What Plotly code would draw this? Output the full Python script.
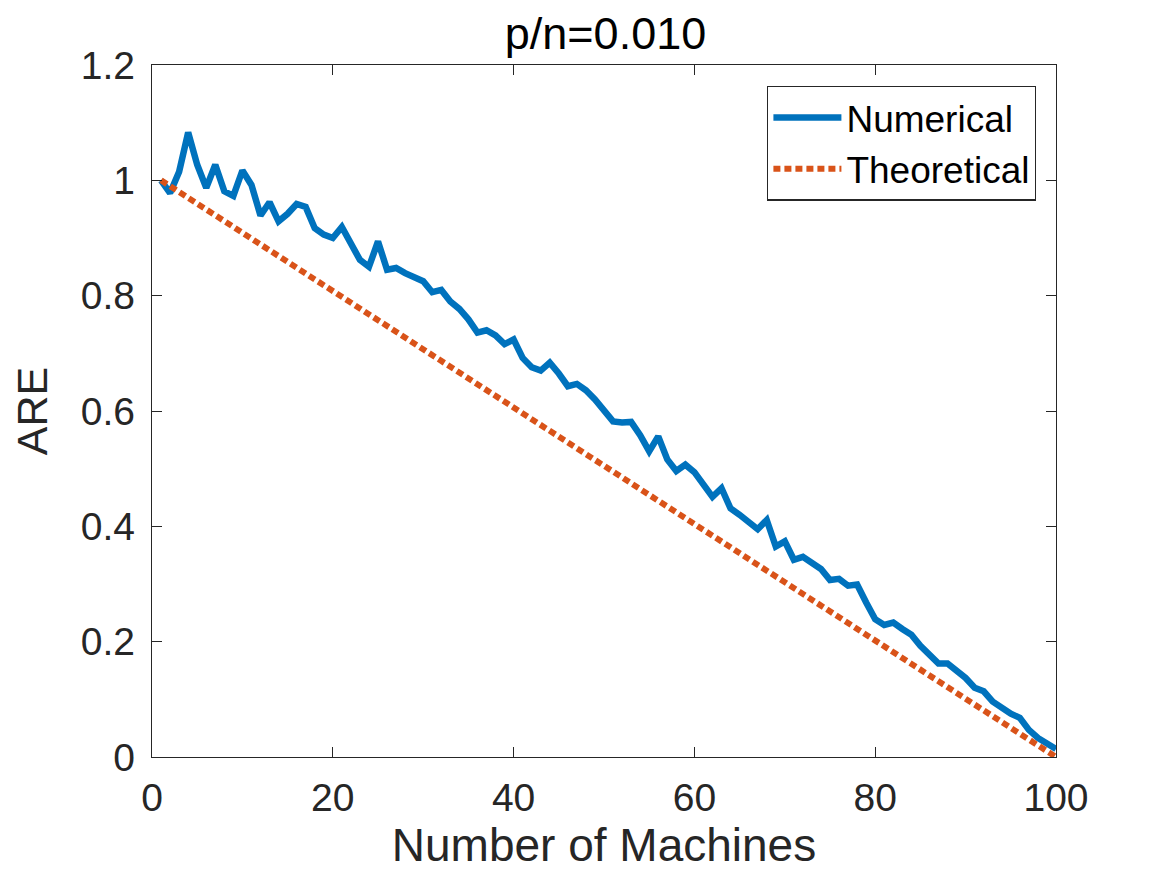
import plotly.graph_objects as go

# number of machines (1..100)
machines = list(range(1, 101))

# numerical ARE
are_numerical = [
    1.000, 0.978, 1.015, 1.083, 1.027, 0.987, 1.027, 0.981, 0.973, 1.017,
    0.992, 0.939, 0.962, 0.929, 0.942, 0.959, 0.954, 0.917, 0.906, 0.900,
    0.919, 0.888, 0.862, 0.850, 0.894, 0.845, 0.848, 0.839, 0.832, 0.825,
    0.806, 0.810, 0.790, 0.777, 0.759, 0.736, 0.740, 0.731, 0.716, 0.724,
    0.692, 0.676, 0.670, 0.684, 0.665, 0.643, 0.647, 0.636, 0.620, 0.602,
    0.582, 0.580, 0.581, 0.558, 0.530, 0.556, 0.516, 0.496, 0.507, 0.494,
    0.474, 0.451, 0.466, 0.431, 0.420, 0.407, 0.395, 0.411, 0.365, 0.374,
    0.342, 0.347, 0.336, 0.326, 0.307, 0.309, 0.297, 0.299, 0.268, 0.239,
    0.229, 0.233, 0.222, 0.212, 0.193, 0.177, 0.162, 0.162, 0.150, 0.137,
    0.120, 0.114, 0.096, 0.085, 0.075, 0.068, 0.047, 0.033, 0.024, 0.014,
]

# theoretical ARE is a straight line between its end points
theory_machines = [1, 100]
are_theoretical = [1.0, 0.0]

x_ticks = [0, 20, 40, 60, 80, 100]
y_ticks = [0, 0.2, 0.4, 0.6, 0.8, 1.0, 1.2]

INK = "#262626"
FONT = "Liberation Sans, Arial, Helvetica, sans-serif"

fig = go.Figure()
fig.add_trace(go.Scatter(x=machines, y=are_numerical, mode="lines", name="Numerical",
                         line=dict(color="#0072BD", width=6.5)))
fig.add_trace(go.Scatter(x=theory_machines, y=are_theoretical, mode="lines", name="Theoretical",
                         line=dict(color="#D95319", width=6, dash="7px,4px")))

axis_style = dict(showline=True, linecolor=INK, linewidth=1.3, mirror="ticks",
                  ticks="inside", ticklen=10, tickwidth=1.3, tickcolor=INK,
                  showgrid=False, zeroline=False,
                  tickfont=dict(family=FONT, size=39, color=INK))

fig.update_xaxes(range=[0, 100], tickvals=x_ticks, ticklabelstandoff=6,
                 title=dict(text="Number of Machines", font=dict(family=FONT, size=46, color=INK), standoff=5),
                 **axis_style)
fig.update_yaxes(range=[0, 1.2], tickvals=y_ticks, ticklabelstandoff=8,
                 title=dict(text="ARE", font=dict(family=FONT, size=43, color=INK), standoff=22),
                 **axis_style)

fig.update_layout(
    width=1167, height=875,
    margin=dict(l=144, r=119, t=57, b=126, autoexpand=False),
    paper_bgcolor="white", plot_bgcolor="white",
    font=dict(family=FONT, color=INK),
    title=dict(text="p/n=0.010", x=0.512, xanchor="center", y=0.971, yanchor="middle",
               font=dict(family=FONT, size=45, color="black")),
    legend=dict(x=0.978, xanchor="right", y=0.970, yanchor="top",
                bordercolor=INK, borderwidth=1.3, bgcolor="white",
                font=dict(family=FONT, size=37, color="black"),
                tracegroupgap=0, itemwidth=68),
    showlegend=True,
)

fig.write_html("out.html")
